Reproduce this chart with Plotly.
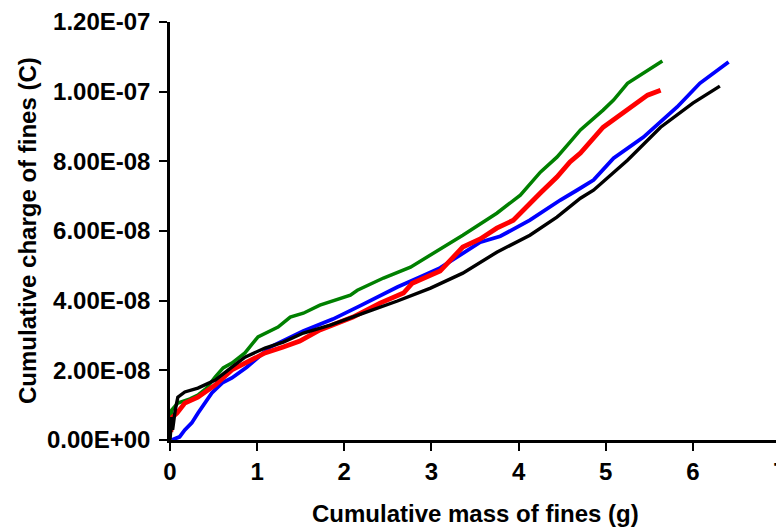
import plotly.graph_objects as go

# Cumulative charge values are given in units of 1e-8 C
CHARGE_UNIT = 1e-8

green_mass = [0.01, 0.02, 0.09, 0.23, 0.32, 0.42, 0.52, 0.61, 0.71, 0.86, 1.01, 1.15, 1.24, 1.38,
              1.53, 1.72, 1.95, 2.07, 2.15, 2.45, 2.76, 2.99, 3.36, 3.75, 4.02, 4.25, 4.44, 4.59,
              4.71, 4.97, 5.09, 5.25, 5.43, 5.65]
green_charge = [0.57, 0.86, 1.06, 1.18, 1.29, 1.49, 1.81, 2.07, 2.21, 2.50, 2.96, 3.13, 3.24, 3.53,
                3.64, 3.87, 4.07, 4.16, 4.30, 4.65, 4.96, 5.31, 5.88, 6.51, 7.03, 7.69, 8.12, 8.55,
                8.90, 9.47, 9.76, 10.24, 10.53, 10.88]

blue_mass = [0.02, 0.11, 0.17, 0.25, 0.32, 0.40, 0.48, 0.60, 0.71, 0.88, 1.15, 1.53, 1.87, 2.18,
             2.61, 2.87, 3.10, 3.56, 3.79, 4.13, 4.48, 4.67, 4.86, 5.09, 5.43, 5.82, 6.08, 6.41]
blue_charge = [0.0, 0.09, 0.29, 0.49, 0.77, 1.06, 1.35, 1.64, 1.78, 2.09, 2.67, 3.13, 3.47, 3.85,
               4.39, 4.68, 4.94, 5.68, 5.85, 6.31, 6.89, 7.17, 7.46, 8.09, 8.69, 9.56, 10.24, 10.85]

red_mass = [0.01, 0.02, 0.03, 0.08, 0.17, 0.32, 0.52, 0.71, 0.90, 1.09, 1.30, 1.49, 1.72, 2.10,
            2.41, 2.68, 2.78, 3.10, 3.36, 3.56, 3.75, 3.94, 4.25, 4.44, 4.59, 4.71, 4.97, 5.25,
            5.48, 5.63]
red_charge = [0.23, 0.37, 0.66, 0.77, 1.06, 1.23, 1.58, 2.01, 2.24, 2.50, 2.67, 2.84, 3.16, 3.53,
              3.93, 4.22, 4.50, 4.85, 5.54, 5.77, 6.08, 6.31, 7.09, 7.55, 7.98, 8.24, 8.98, 9.47,
              9.90, 10.04]

black_mass = [0.0, 0.02, 0.03, 0.06, 0.09, 0.17, 0.32, 0.52, 0.71, 0.86, 1.09, 1.30, 1.53, 1.84,
              2.22, 2.61, 2.99, 3.36, 3.75, 4.13, 4.44, 4.71, 4.86, 5.25, 5.63, 6.00, 6.31]
black_charge = [0.0, 0.66, 0.29, 0.86, 1.23, 1.38, 1.49, 1.72, 2.09, 2.38, 2.64, 2.81, 3.07, 3.30,
                3.64, 3.99, 4.36, 4.79, 5.39, 5.88, 6.40, 6.94, 7.17, 8.03, 8.98, 9.67, 10.16]

x_tick_vals = [0, 1, 2, 3, 4, 5, 6, 7]
y_tick_vals = [0, 2e-8, 4e-8, 6e-8, 8e-8, 1e-7, 1.2e-7]
y_tick_text = ["0.00E+00", "2.00E-08", "4.00E-08", "6.00E-08", "8.00E-08", "1.00E-07", "1.20E-07"]

series = [
    (green_mass, green_charge, "#008000", 3.5),
    (blue_mass, blue_charge, "#0000FF", 3.8),
    (red_mass, red_charge, "#FF0000", 4.8),
    (black_mass, black_charge, "#000000", 3.4),
]

fig = go.Figure()
for xs, ys, color, w in series:
    fig.add_trace(go.Scatter(
        x=xs, y=[v * CHARGE_UNIT for v in ys], mode="lines",
        line=dict(color=color, width=w), showlegend=False, hoverinfo="skip"))

font_family = "Liberation Sans, Arial, sans-serif"
# the page body adds an 8px offset, so the figure is 8px smaller than the window
fig.update_layout(
    template="none",
    width=776, height=521,
    margin=dict(l=162, r=4, t=14, b=89),
    paper_bgcolor="white", plot_bgcolor="white",
    font=dict(family=font_family, color="black"),
    showlegend=False,
    annotations=[
        dict(text="<b>Cumulative mass of fines (g)</b>", xref="paper", yref="paper",
             x=0.5, y=0, yshift=-73, xanchor="center", yanchor="middle", showarrow=False,
             font=dict(size=24, family=font_family, color="black")),
        dict(text="<b>Cumulative charge of fines (C)</b>", xref="paper", yref="paper",
             x=0, y=0.5, xshift=-143, xanchor="center", yanchor="middle", showarrow=False,
             textangle=-90, font=dict(size=24, family=font_family, color="black")),
    ],
)
fig.update_xaxes(
    range=[0, 7], tickvals=x_tick_vals, ticktext=[str(v) for v in x_tick_vals],
    automargin=False, ticklabeloverflow="allow",
    showgrid=False, zeroline=False, showline=True, linecolor="black", linewidth=2.5,
    ticks="outside", ticklen=8, tickwidth=2, tickcolor="black",
    tickfont=dict(size=24, family=font_family, color="black", weight="bold"),
)
fig.update_yaxes(
    range=[0, 1.2e-7], tickvals=y_tick_vals, ticktext=y_tick_text,
    automargin=False, ticklabelstandoff=4,
    showgrid=False, zeroline=False, showline=True, linecolor="black", linewidth=2.5,
    ticks="outside", ticklen=8, tickwidth=2, tickcolor="black",
    tickfont=dict(size=24, family=font_family, color="black", weight="bold"),
)

fig.write_html("out.html")
